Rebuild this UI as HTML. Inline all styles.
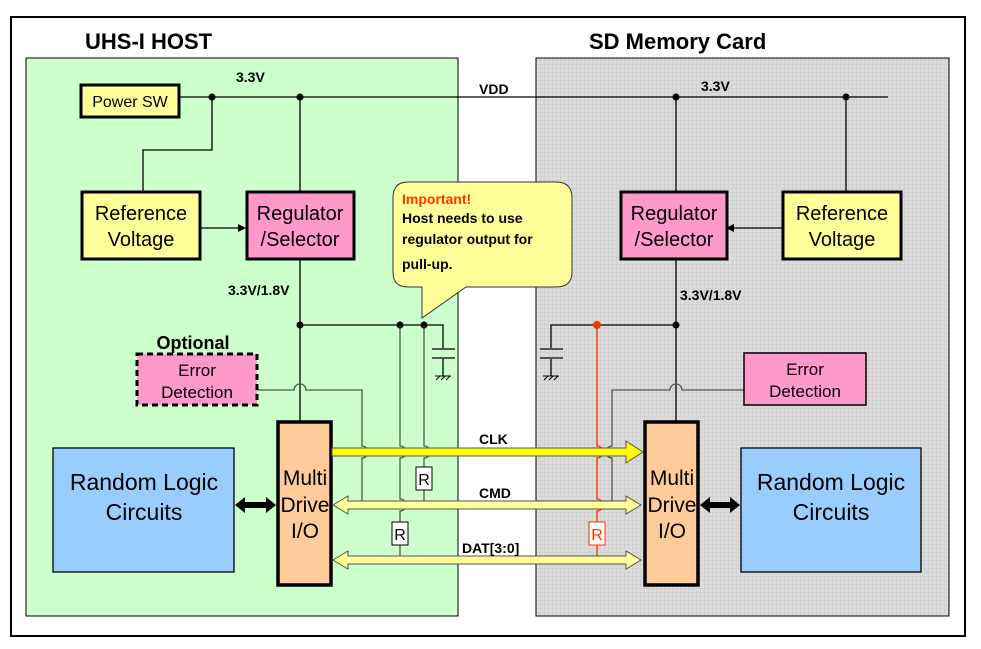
<!DOCTYPE html>
<html><head><meta charset="utf-8"><style>
html,body{margin:0;padding:0;background:#fff;}
svg{display:block;font-family:"Liberation Sans",sans-serif;}
</style></head><body>
<svg width="981" height="649" viewBox="0 0 981 649" xmlns="http://www.w3.org/2000/svg">
<defs>
<pattern id="grid" width="4" height="4" patternUnits="userSpaceOnUse">
<rect width="4" height="4" fill="#dcdcdc"/>
<path d="M0 0H4M0 0V4" stroke="#c8c8c8" stroke-width="1"/>
</pattern>
</defs>
<rect x="11" y="17" width="954" height="619" fill="#fff" stroke="#000" stroke-width="2"/>
<rect x="26" y="58" width="432" height="558" fill="#ccffcc" stroke="#000" stroke-width="1"/>
<rect x="536" y="58" width="413" height="558" fill="url(#grid)" stroke="#000" stroke-width="1"/>
<text x="85" y="49" font-size="22" font-weight="bold">UHS-I HOST</text>
<text x="589" y="49" font-size="22" font-weight="bold">SD Memory Card</text>

<g stroke="#000" stroke-width="1.3" fill="none">
<line x1="180" y1="97" x2="888" y2="97"/>
<polyline points="212,97 212,150 143,150 143,192"/>
<line x1="300" y1="97" x2="300" y2="192"/>
<line x1="676" y1="97" x2="676" y2="192"/>
<line x1="846" y1="97" x2="846" y2="192"/>
<line x1="300" y1="260" x2="300" y2="421"/>
<line x1="676" y1="260" x2="676" y2="421"/>
<polyline points="300,325 443,325 443,349"/>
<line x1="443" y1="358" x2="443" y2="376"/>
<polyline points="676,325 551,325 551,349"/>
<line x1="551" y1="358" x2="551" y2="376"/>
<line x1="200" y1="228" x2="238" y2="228"/>
<line x1="790" y1="228" x2="734" y2="228"/>
</g>
<g stroke="#555" stroke-width="2">
<line x1="432" y1="349" x2="455" y2="349"/><line x1="432" y1="358" x2="455" y2="358"/>
<line x1="540" y1="349" x2="563" y2="349"/><line x1="540" y1="358" x2="563" y2="358"/>
</g>
<g stroke="#000" stroke-width="1">
<line x1="435" y1="376" x2="451" y2="376"/><line x1="436" y1="380" x2="440" y2="376"/><line x1="441" y1="380" x2="445" y2="376"/><line x1="446" y1="380" x2="450" y2="376"/>
<line x1="543" y1="376" x2="559" y2="376"/><line x1="544" y1="380" x2="548" y2="376"/><line x1="549" y1="380" x2="553" y2="376"/><line x1="554" y1="380" x2="558" y2="376"/>
</g>
<polygon points="246,228 238,224 238,232" fill="#000"/>
<polygon points="726,228 734,224 734,232" fill="#000"/>

<g stroke="#4a5a4a" stroke-width="1.3" fill="none">
<path d="M257 390 H294 A6 6 0 0 1 306 390 H362 V446 A6 6 0 0 1 362 458 V505"/>
<path d="M400 325 V446 A6 6 0 0 1 400 458 V499 A6 6 0 0 1 400 511 V522"/>
<line x1="400" y1="545" x2="400" y2="560"/>
<path d="M424 325 V446 A6 6 0 0 1 424 458 V467"/>
<line x1="424" y1="490" x2="424" y2="505"/>
<path d="M744 390 H682 A6 6 0 0 0 670 390 H612 V446 A6 6 0 0 0 612 458 V505"/>
</g>
<g stroke="#ff3300" stroke-width="1.3" fill="none">
<path d="M597 325 V446 A6 6 0 0 1 597 458 V499 A6 6 0 0 1 597 511 V522"/>
<line x1="597" y1="545" x2="597" y2="560"/>
</g>
<g fill="#000">
<circle cx="212" cy="97" r="3.5"/><circle cx="300" cy="97" r="3.5"/>
<circle cx="676" cy="97" r="3.5"/><circle cx="846" cy="97" r="3.5"/>
<circle cx="300" cy="325" r="3.5"/><circle cx="400" cy="325" r="3.5"/><circle cx="424" cy="325" r="3.5"/>
<circle cx="676" cy="325" r="3.5"/>
</g>
<circle cx="597" cy="325" r="4" fill="#ff3300"/>

<rect x="416" y="467" width="16" height="23" fill="#fff" stroke="#000"/>
<text x="424" y="485" font-size="16" text-anchor="middle">R</text>
<rect x="392" y="522" width="16" height="23" fill="#fff" stroke="#000"/>
<text x="400" y="540" font-size="16" text-anchor="middle">R</text>
<rect x="589" y="522" width="16" height="23" fill="#fff" stroke="#ff3300"/>
<text x="597" y="540" font-size="16" text-anchor="middle" fill="#ff3300">R</text>

<rect x="81" y="85" width="98" height="32" fill="#ffff99" stroke="#000" stroke-width="3"/>
<text x="130" y="107" font-size="16" text-anchor="middle">Power SW</text>
<rect x="82" y="192" width="118" height="67" fill="#ffff99" stroke="#000" stroke-width="3"/>
<text x="141" y="220" font-size="20" text-anchor="middle">Reference</text>
<text x="141" y="246" font-size="20" text-anchor="middle">Voltage</text>
<rect x="247" y="192" width="107" height="67" fill="#ff99cc" stroke="#000" stroke-width="3"/>
<text x="300" y="220" font-size="20" text-anchor="middle">Regulator</text>
<text x="300" y="246" font-size="20" text-anchor="middle">/Selector</text>
<rect x="621" y="192" width="106" height="67" fill="#ff99cc" stroke="#000" stroke-width="3"/>
<text x="674" y="220" font-size="20" text-anchor="middle">Regulator</text>
<text x="674" y="246" font-size="20" text-anchor="middle">/Selector</text>
<rect x="783" y="192" width="118" height="67" fill="#ffff99" stroke="#000" stroke-width="3"/>
<text x="842" y="220" font-size="20" text-anchor="middle">Reference</text>
<text x="842" y="246" font-size="20" text-anchor="middle">Voltage</text>

<rect x="137" y="354" width="120" height="51" fill="#ff99cc" stroke="#000" stroke-width="3" stroke-dasharray="6,4"/>
<text x="197" y="376" font-size="17" text-anchor="middle">Error</text>
<text x="197" y="398" font-size="17" text-anchor="middle">Detection</text>
<text x="193" y="349" font-size="18" font-weight="bold" text-anchor="middle">Optional</text>
<rect x="744" y="353" width="122" height="52" fill="#ff99cc" stroke="#000" stroke-width="1.5"/>
<text x="805" y="375" font-size="17" text-anchor="middle">Error</text>
<text x="805" y="397" font-size="17" text-anchor="middle">Detection</text>

<rect x="53" y="448" width="181" height="124" fill="#99ccff" stroke="#000" stroke-width="1.3"/>
<text x="144" y="490" font-size="23" text-anchor="middle">Random Logic</text>
<text x="144" y="520" font-size="23" text-anchor="middle">Circuits</text>
<rect x="741" y="448" width="180" height="124" fill="#99ccff" stroke="#000" stroke-width="1.3"/>
<text x="831" y="490" font-size="23" text-anchor="middle">Random Logic</text>
<text x="831" y="520" font-size="23" text-anchor="middle">Circuits</text>

<rect x="278" y="422" width="53" height="163" fill="#ffcc99" stroke="#000" stroke-width="3.5"/>
<text x="305" y="485" font-size="21" text-anchor="middle">Multi</text>
<text x="305" y="512" font-size="21" text-anchor="middle">Drive</text>
<text x="305" y="538" font-size="21" text-anchor="middle">I/O</text>
<rect x="645" y="422" width="53" height="163" fill="#ffcc99" stroke="#000" stroke-width="3.5"/>
<text x="672" y="485" font-size="21" text-anchor="middle">Multi</text>
<text x="672" y="512" font-size="21" text-anchor="middle">Drive</text>
<text x="672" y="538" font-size="21" text-anchor="middle">I/O</text>

<polygon points="235,505 245,497 245,502 266,502 266,497 276,505 266,513 266,508 245,508 245,513" fill="#000"/>
<polygon points="700,505 710,497 710,502 730,502 730,497 740,505 730,513 730,508 710,508 710,513" fill="#000"/>

<polygon points="332,448 626,448 626,441 643,452 626,463 626,456 332,456" fill="#ffff00" stroke="#555" stroke-width="1"/>
<polygon points="333,505 348,496 348,501 626,501 626,496 641,505 626,514 626,509 348,509 348,514" fill="#ffff99" stroke="#555" stroke-width="1"/>
<polygon points="333,560 348,551 348,556 626,556 626,551 641,560 626,569 626,564 348,564 348,569" fill="#ffff99" stroke="#555" stroke-width="1"/>

<g font-size="14" font-weight="bold">
<text x="236" y="82">3.3V</text>
<text x="479" y="94">VDD</text>
<text x="701" y="91">3.3V</text>
<text x="228" y="295">3.3V/1.8V</text>
<text x="680" y="300">3.3V/1.8V</text>
<text x="479" y="444">CLK</text>
<text x="479" y="498">CMD</text>
<text x="462" y="553">DAT[3:0]</text>
</g>

<path d="M408 182 H556 Q572 182 572 198 V272 Q572 287 556 287 H466 L422 318 L422 287 H408 Q393 287 393 272 V198 Q393 182 408 182 Z" fill="#ffff99" stroke="#333" stroke-width="1"/>
<text x="402" y="204" font-size="14" font-weight="bold" fill="#ff3300">Important!</text>
<text x="402" y="223" font-size="14" font-weight="bold">Host needs to use</text>
<text x="402" y="244" font-size="14" font-weight="bold">regulator output for</text>
<text x="402" y="269" font-size="14" font-weight="bold">pull-up.</text>
</svg>
</body></html>
